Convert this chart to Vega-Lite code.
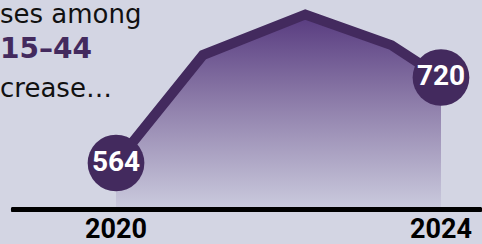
{
  "$schema": "https://vega.github.io/schema/vega-lite/v6.json",
  "width": 482,
  "height": 244,
  "padding": 0,
  "autosize": {"type": "none"},
  "background": "#d3d5e3",
  "config": {"view": {"stroke": null}},
  "datasets": {
    "series": [
      {"year": 2020, "cases": 564, "label": "564", "tick": "2020"},
      {"year": 2021.07, "cases": 761, "label": null, "tick": null},
      {"year": 2022.33, "cases": 835, "label": null, "tick": null},
      {"year": 2023.39, "cases": 779, "label": null, "tick": null},
      {"year": 2024, "cases": 720, "label": "720", "tick": "2024"}
    ],
    "notes": [
      {"line": 1, "text": "ses among"},
      {"line": 2, "text": "15–44"},
      {"line": 3, "text": "crease…"}
    ]
  },
  "data": {"name": "series"},
  "layer": [
    {
      "mark": {
        "type": "area",
        "color": {
          "gradient": "linear", "x1": 0, "y1": 0, "x2": 0, "y2": 1,
          "stops": [
            {"offset": 0, "color": "#573a7f"},
            {"offset": 0.5, "color": "#9384ae"},
            {"offset": 1, "color": "#cbcbde"}
          ]
        }
      },
      "encoding": {
        "x": {"field": "year", "type": "quantitative", "scale": {"domain": [2018.572, 2024.505], "nice": false, "zero": false}, "axis": null},
        "y": {"field": "cases", "type": "quantitative", "scale": {"domain": [416.2, 861.4], "nice": false, "zero": false}, "axis": null},
        "y2": {"datum": 479}
      }
    },
    {
      "mark": {"type": "line", "color": "#432a5e", "strokeWidth": 10, "strokeJoin": "miter"},
      "encoding": {
        "x": {"field": "year", "type": "quantitative"},
        "y": {"field": "cases", "type": "quantitative"}
      }
    },
    {
      "mark": {"type": "rule", "color": "#000000", "strokeWidth": 5, "strokeCap": "round"},
      "encoding": {
        "x": {"datum": 2018.738, "type": "quantitative"},
        "x2": {"datum": 2024.474},
        "y": {"datum": 479, "type": "quantitative"}
      }
    },
    {
      "transform": [{"filter": "datum.label != null"}],
      "mark": {"type": "circle", "color": "#432a5e", "opacity": 1, "size": 3217},
      "encoding": {
        "x": {"field": "year", "type": "quantitative"},
        "y": {"field": "cases", "type": "quantitative"}
      }
    },
    {
      "transform": [{"filter": "datum.label != null"}],
      "mark": {"type": "text", "color": "#ffffff", "font": "Roboto", "fontWeight": "bold", "fontSize": 28, "baseline": "middle", "align": "center", "dy": 0},
      "encoding": {
        "x": {"field": "year", "type": "quantitative"},
        "y": {"field": "cases", "type": "quantitative"},
        "text": {"field": "label"}
      }
    },
    {
      "transform": [{"filter": "datum.tick != null"}],
      "mark": {"type": "text", "color": "#000000", "font": "Roboto", "fontWeight": "bold", "fontSize": 27, "baseline": "alphabetic", "align": "center"},
      "encoding": {
        "x": {"field": "year", "type": "quantitative"},
        "y": {"datum": 427, "type": "quantitative"},
        "text": {"field": "tick"}
      }
    },
    {
      "data": {"name": "notes"},
      "transform": [{"filter": "datum.line == 1"}],
      "mark": {"type": "text", "color": "#111111", "font": "DejaVu Sans", "fontSize": 26, "baseline": "alphabetic", "align": "left"},
      "encoding": {
        "x": {"datum": 2018.572, "type": "quantitative"},
        "y": {"datum": 819.4, "type": "quantitative"},
        "text": {"field": "text"}
      }
    },
    {
      "data": {"name": "notes"},
      "transform": [{"filter": "datum.line == 2"}],
      "mark": {"type": "text", "color": "#432a5e", "font": "DejaVu Sans", "fontWeight": "bold", "fontSize": 28, "baseline": "alphabetic", "align": "left"},
      "encoding": {
        "x": {"datum": 2018.572, "type": "quantitative"},
        "y": {"datum": 755.5, "type": "quantitative"},
        "text": {"field": "text"}
      }
    },
    {
      "data": {"name": "notes"},
      "transform": [{"filter": "datum.line == 3"}],
      "mark": {"type": "text", "color": "#111111", "font": "DejaVu Sans", "fontSize": 26, "baseline": "alphabetic", "align": "left"},
      "encoding": {
        "x": {"datum": 2018.572, "type": "quantitative"},
        "y": {"datum": 685, "type": "quantitative"},
        "text": {"field": "text"}
      }
    }
  ]
}
